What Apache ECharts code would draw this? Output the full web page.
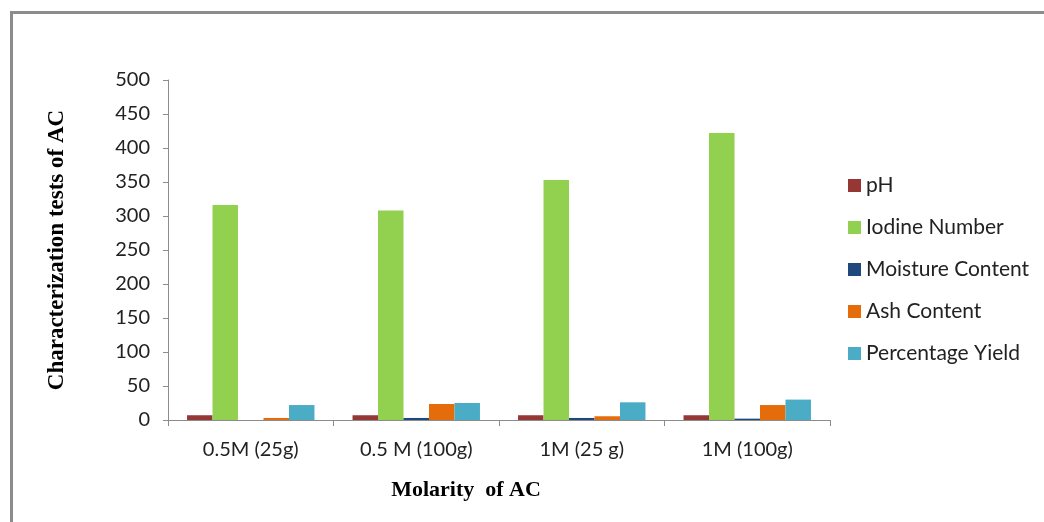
<!DOCTYPE html>
<html>
<head>
<meta charset="utf-8">
<script src="https://cdn.jsdelivr.net/npm/echarts@6/dist/echarts.min.js"></script>
<style>html,body{margin:0;padding:0;background:#fff;}#c{width:1044px;height:522px;}</style>
</head>
<body>
<div id="c"></div>
<script>
const categories = ['0.5M (25g)', '0.5 M (100g)', '1M (25 g)', '1M (100g)'];
const pH = [7, 7, 7, 7];
const iodineNumber = [316, 308, 353, 422];
const moistureContent = [0, 3, 3, 2];
const ashContent = [3, 23.5, 5.5, 22];
const percentageYield = [22, 25, 26, 30];
const seriesNames = ['pH', 'Iodine Number', 'Moisture Content', 'Ash Content', 'Percentage Yield'];
const yTicks = [0, 50, 100, 150, 200, 250, 300, 350, 400, 450, 500];

const colors = ['#953735', '#92D050', '#1F497D', '#E46C0A', '#4BACC6'];
const dataSets = [pH, iodineNumber, moistureContent, ashContent, percentageYield];
const labelFont = 'Lato, "Open Sans", sans-serif';

const chart = echarts.init(document.getElementById('c'), null, {renderer: 'canvas'});
chart.setOption({
  animation: false,
  backgroundColor: '#ffffff',
  graphic: [{
    type: 'rect', left: 9, top: 10, z: -1, silent: true,
    shape: {width: 1100, height: 600},
    style: {fill: 'none', stroke: '#8c8c8c', lineWidth: 3}
  }],
  grid: {left: 168, right: 214, top: 80, bottom: 102},
  legend: {
    orient: 'vertical', left: 843, top: 170, itemGap: 21,
    itemWidth: 13, itemHeight: 13, icon: 'rect',
    textStyle: {fontFamily: labelFont, fontSize: 21, color: '#222'},
    data: seriesNames
  },
  xAxis: {
    type: 'category', data: categories,
    name: 'Molarity  of AC', nameLocation: 'middle', nameGap: 59,
    nameTextStyle: {fontFamily: '"Liberation Serif", serif', fontWeight: 'bold', fontSize: 22, color: '#000', padding: [0, 66, 0, 0]},
    axisLine: {lineStyle: {color: '#8c8c8c', width: 1}},
    axisTick: {show: true, length: 6, lineStyle: {color: '#8c8c8c'}, inside: false},
    axisLabel: {fontFamily: labelFont, fontSize: 20, color: '#222', margin: 20}
  },
  yAxis: {
    type: 'value', min: 0, max: 500, interval: 50,
    name: 'Characterization tests of AC', nameLocation: 'middle', nameGap: 99,
    nameTextStyle: {fontFamily: '"Liberation Serif", serif', fontWeight: 'bold', fontSize: 23, color: '#000'},
    axisLine: {show: true, lineStyle: {color: '#8c8c8c', width: 1}},
    axisTick: {show: true, length: 5, lineStyle: {color: '#8c8c8c'}},
    splitLine: {show: false},
    axisLabel: {fontFamily: labelFont, fontSize: 20, color: '#222', margin: 18,
      formatter: v => yTicks.includes(v) ? String(v) : ''}
  },
  series: seriesNames.map((n, i) => ({
    name: n, type: 'bar', data: dataSets[i],
    barGap: '0%', barCategoryGap: '23%',
    itemStyle: {color: colors[i]}
  }))
});
</script>
</body>
</html>
